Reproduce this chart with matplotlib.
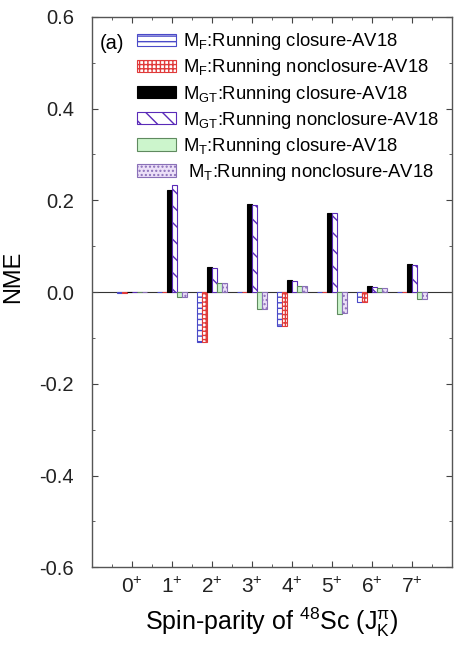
import numpy as np
import matplotlib
matplotlib.use('Agg')
import matplotlib.pyplot as plt

plt.rcParams['font.family'] = ['Liberation Sans', 'DejaVu Sans']
plt.rcParams['mathtext.fontset'] = 'custom'
plt.rcParams['mathtext.rm'] = 'Liberation Sans'
plt.rcParams['mathtext.it'] = 'Liberation Sans:italic'
plt.rcParams['mathtext.default'] = 'regular'
plt.rcParams['hatch.linewidth'] = 1.0

# data
states = [0, 1, 2, 3, 4, 5, 6, 7]
tick_labels = ['$0^{+}$', '$1^{+}$', '$2^{+}$', '$3^{+}$', '$4^{+}$', '$5^{+}$', '$6^{+}$', '$7^{+}$']
mf_closure = [-0.002, 0.0, -0.110, 0.0, -0.075, 0.0, -0.022, 0.0]
mf_nonclosure = [-0.002, 0.0, -0.108, 0.0, -0.073, 0.0, -0.021, 0.0]
mgt_closure = [0.0, 0.222, 0.055, 0.191, 0.027, 0.173, 0.013, 0.062]
mgt_nonclosure = [0.0, 0.233, 0.053, 0.189, 0.025, 0.172, 0.011, 0.060]
mt_closure = [0.0, -0.010, 0.020, -0.038, 0.014, -0.047, 0.009, -0.015]
mt_nonclosure = [0.0, -0.010, 0.019, -0.037, 0.013, -0.046, 0.008, -0.015]

labels = [
    'M$_{F}$:Running closure-AV18',
    'M$_{F}$:Running nonclosure-AV18',
    'M$_{GT}$:Running closure-AV18',
    'M$_{GT}$:Running nonclosure-AV18',
    'M$_{T}$:Running closure-AV18',
    ' M$_{T}$:Running nonclosure-AV18',
]
series = [mf_closure, mf_nonclosure, mgt_closure, mgt_nonclosure, mt_closure, mt_nonclosure]
styles = [
    dict(facecolor='white', edgecolor='#4a4ac8', hatch='---'),
    dict(facecolor='white', edgecolor='#e03a3a', hatch='++++'),
    dict(facecolor='black', edgecolor='black', hatch=None),
    dict(facecolor='white', edgecolor='#5a2ab8', hatch='\\\\'),
    dict(facecolor='#ccf5cc', edgecolor='#5f8a5f', hatch=None),
    dict(facecolor='#ece0f8', edgecolor='#8a70b8', hatch='....'),
]

fig = plt.figure(figsize=(4.54, 6.49), dpi=100)
ax = fig.add_axes([0.203, 0.126, 0.793, 0.848])

x = np.array(states, dtype=float)
w = 0.125
for i, (vals, st, lab) in enumerate(zip(series, styles, labels)):
    ax.bar(x + (i - 2.5) * w, vals, width=w, label=lab, linewidth=0.8, **st)

ax.axhline(0, color='#333333', lw=0.8, zorder=0)

ax.set_xlim(-1, 8)
ax.set_ylim(-0.6, 0.6)
ax.set_xticks(states)
ax.set_xticklabels(tick_labels, fontsize=15)
ax.set_xticks(np.arange(-0.5, 8, 1), minor=True)
ax.set_yticks(np.arange(-0.6, 0.61, 0.2))
ax.set_yticklabels(['%.1f' % v for v in np.arange(-0.6, 0.61, 0.2)], fontsize=14.5)
ax.set_yticks(np.arange(-0.5, 0.6, 0.2), minor=True)
ax.tick_params(which='both', direction='in', top=True, right=True, colors='#444444', labelcolor='#222222')
ax.tick_params(which='major', length=4)
ax.tick_params(axis='y', which='major', pad=13)
ax.tick_params(axis='x', which='major', pad=7)
ax.tick_params(which='minor', length=2)
for s in ax.spines.values():
    s.set_color('#555555')
    s.set_linewidth(1.0)

ax.set_ylabel('NME', fontsize=17)
ax.yaxis.set_label_coords(-0.19, 0.527)
ax.set_xlabel('Spin-parity of $^{48}$Sc (J$^{\\pi}_{K}$)', fontsize=18, labelpad=6)

ax.text(0.022, 0.952, '(a)', transform=ax.transAxes, fontsize=14.5, va='center', ha='left')
ax.legend(loc='upper left', bbox_to_anchor=(0.125, 0.974), frameon=False, fontsize=13.3,
          handlelength=2.1, handleheight=0.65, handletextpad=0.4, labelspacing=0.28,
          borderpad=0, borderaxespad=0)

fig.savefig('out.png', dpi=100)
